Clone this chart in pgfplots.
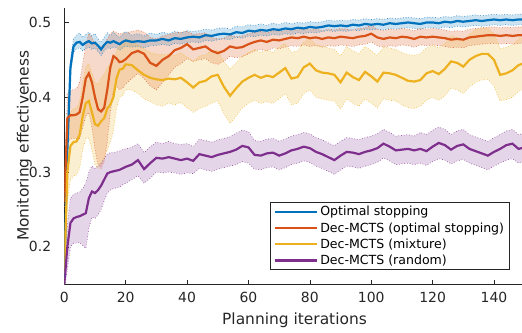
\documentclass[border=0pt]{standalone}
\usepackage{fontspec}
\setmainfont{DejaVu Sans}
\usepackage{pgfplots}
\pgfplotsset{compat=1.18}
\usepackage{pgfplotstable}
\usepgfplotslibrary{fillbetween}
\definecolor{cblue}{rgb}{0,0.447,0.741}
\definecolor{corange}{rgb}{0.85,0.325,0.098}
\definecolor{cyellow}{rgb}{0.929,0.694,0.125}
\definecolor{cpurple}{rgb}{0.494,0.184,0.556}
\definecolor{axgray}{rgb}{0.15,0.15,0.15}

\pgfplotstableread{
x m lo hi
0 0.160 0.152 0.168
1 0.330 0.318 0.342
2 0.440 0.430 0.450
3 0.468 0.460 0.478
4 0.473 0.465 0.483
5 0.474 0.466 0.486
6 0.470 0.462 0.480
7 0.473 0.465 0.484
8 0.475 0.467 0.487
9 0.472 0.464 0.482
10 0.473 0.466 0.485
11 0.469 0.461 0.478
12 0.464 0.456 0.473
13 0.470 0.462 0.480
14 0.474 0.466 0.486
15 0.473 0.465 0.482
16 0.475 0.467 0.487
17 0.473 0.466 0.483
18 0.471 0.463 0.480
19 0.474 0.466 0.484
20 0.476 0.468 0.488
22 0.474 0.467 0.483
24 0.475 0.468 0.485
26 0.474 0.466 0.482
28 0.476 0.469 0.486
30 0.476 0.469 0.484
32 0.478 0.471 0.487
34 0.476 0.469 0.485
36 0.479 0.472 0.488
38 0.478 0.471 0.486
40 0.480 0.473 0.489
42 0.481 0.474 0.488
44 0.480 0.473 0.489
46 0.483 0.476 0.491
48 0.482 0.475 0.490
50 0.484 0.477 0.492
52 0.485 0.478 0.493
54 0.484 0.477 0.491
56 0.487 0.480 0.495
58 0.486 0.479 0.494
60 0.489 0.482 0.497
62 0.488 0.481 0.496
64 0.490 0.483 0.498
66 0.489 0.482 0.496
68 0.491 0.484 0.499
70 0.490 0.483 0.497
72 0.492 0.485 0.500
74 0.491 0.484 0.498
76 0.493 0.486 0.500
78 0.492 0.485 0.499
80 0.494 0.487 0.501
82 0.493 0.486 0.500
84 0.494 0.488 0.501
86 0.496 0.489 0.503
88 0.495 0.488 0.502
90 0.496 0.489 0.503
92 0.495 0.488 0.502
94 0.497 0.490 0.504
96 0.496 0.489 0.503
98 0.498 0.491 0.505
100 0.497 0.490 0.504
102 0.498 0.491 0.505
104 0.497 0.490 0.504
106 0.499 0.492 0.506
108 0.498 0.491 0.505
110 0.499 0.492 0.506
112 0.500 0.493 0.507
114 0.499 0.492 0.506
116 0.498 0.491 0.505
118 0.500 0.493 0.507
120 0.500 0.493 0.507
122 0.499 0.492 0.506
124 0.501 0.494 0.508
126 0.500 0.493 0.507
128 0.502 0.495 0.509
130 0.501 0.494 0.508
132 0.502 0.495 0.509
134 0.503 0.496 0.510
136 0.502 0.495 0.509
138 0.503 0.496 0.510
140 0.504 0.497 0.511
142 0.503 0.496 0.510
144 0.504 0.497 0.511
146 0.503 0.496 0.510
148 0.504 0.497 0.511
150 0.504 0.497 0.511
}\tblue

\pgfplotstableread{
x m lo hi
0 0.260 0.250 0.270
1 0.372 0.340 0.405
2 0.376 0.345 0.410
3 0.376 0.345 0.410
4 0.377 0.345 0.412
5 0.380 0.345 0.420
6 0.400 0.360 0.445
7 0.425 0.375 0.470
8 0.432 0.380 0.485
9 0.420 0.360 0.480
10 0.400 0.330 0.470
11 0.384 0.310 0.465
12 0.381 0.305 0.468
13 0.386 0.315 0.470
14 0.410 0.340 0.478
15 0.440 0.380 0.485
16 0.455 0.410 0.488
17 0.452 0.415 0.487
18 0.447 0.410 0.484
19 0.448 0.412 0.486
20 0.451 0.418 0.486
22 0.459 0.425 0.488
24 0.462 0.432 0.490
26 0.458 0.425 0.487
28 0.446 0.415 0.480
30 0.442 0.410 0.478
32 0.450 0.420 0.482
34 0.455 0.430 0.484
36 0.463 0.440 0.486
38 0.466 0.445 0.487
40 0.471 0.452 0.488
42 0.464 0.448 0.484
44 0.466 0.450 0.485
46 0.468 0.452 0.486
48 0.462 0.446 0.480
50 0.459 0.444 0.478
52 0.462 0.448 0.479
54 0.468 0.455 0.483
56 0.466 0.453 0.481
58 0.467 0.454 0.482
60 0.471 0.458 0.485
62 0.474 0.462 0.487
64 0.476 0.464 0.488
66 0.474 0.462 0.486
68 0.477 0.466 0.489
70 0.476 0.465 0.488
72 0.478 0.467 0.489
74 0.480 0.469 0.491
76 0.479 0.468 0.490
78 0.481 0.470 0.492
80 0.479 0.468 0.490
82 0.480 0.469 0.491
84 0.478 0.467 0.489
86 0.480 0.469 0.491
88 0.479 0.468 0.490
90 0.481 0.470 0.492
92 0.480 0.469 0.491
94 0.479 0.468 0.490
96 0.481 0.470 0.492
98 0.482 0.471 0.493
100 0.485 0.474 0.496
102 0.480 0.469 0.491
104 0.478 0.467 0.489
106 0.480 0.469 0.491
108 0.479 0.468 0.490
110 0.481 0.470 0.492
112 0.480 0.469 0.491
114 0.478 0.467 0.489
116 0.481 0.470 0.492
118 0.480 0.469 0.491
120 0.481 0.470 0.492
122 0.480 0.469 0.491
124 0.479 0.468 0.490
126 0.477 0.466 0.488
128 0.478 0.467 0.489
130 0.477 0.466 0.488
132 0.480 0.469 0.491
134 0.481 0.470 0.492
136 0.482 0.471 0.493
138 0.483 0.472 0.494
140 0.483 0.472 0.494
142 0.482 0.471 0.493
144 0.483 0.472 0.494
146 0.482 0.471 0.493
148 0.483 0.472 0.494
150 0.483 0.472 0.494
}\torange

\pgfplotstableread{
x m lo hi
0 0.165 0.150 0.180
1 0.300 0.260 0.340
2 0.335 0.290 0.380
3 0.340 0.295 0.385
4 0.341 0.296 0.386
5 0.350 0.305 0.395
6 0.375 0.330 0.420
7 0.392 0.345 0.440
8 0.395 0.345 0.445
9 0.380 0.330 0.432
10 0.364 0.310 0.420
11 0.362 0.305 0.418
12 0.368 0.312 0.425
13 0.372 0.318 0.430
14 0.385 0.330 0.440
15 0.390 0.340 0.445
16 0.400 0.355 0.450
17 0.425 0.385 0.462
18 0.437 0.400 0.470
19 0.438 0.402 0.472
20 0.444 0.410 0.478
22 0.443 0.410 0.476
24 0.436 0.405 0.470
26 0.430 0.398 0.465
28 0.426 0.394 0.460
30 0.424 0.390 0.458
32 0.423 0.388 0.457
34 0.425 0.392 0.458
36 0.424 0.390 0.456
38 0.426 0.393 0.460
40 0.420 0.386 0.454
42 0.413 0.380 0.448
44 0.420 0.385 0.455
46 0.422 0.388 0.457
48 0.428 0.392 0.462
50 0.430 0.395 0.463
52 0.414 0.378 0.448
54 0.402 0.365 0.438
56 0.412 0.375 0.446
58 0.421 0.386 0.455
60 0.426 0.392 0.460
62 0.430 0.396 0.464
64 0.426 0.392 0.460
66 0.429 0.394 0.463
68 0.427 0.392 0.460
70 0.433 0.398 0.467
72 0.439 0.405 0.472
74 0.425 0.390 0.460
76 0.427 0.392 0.462
78 0.440 0.405 0.474
80 0.445 0.410 0.478
82 0.436 0.400 0.470
84 0.433 0.398 0.468
86 0.432 0.396 0.466
88 0.430 0.395 0.464
90 0.420 0.384 0.455
92 0.433 0.398 0.468
94 0.427 0.392 0.462
96 0.423 0.388 0.458
98 0.434 0.398 0.468
100 0.428 0.392 0.462
102 0.421 0.386 0.456
104 0.433 0.398 0.467
106 0.432 0.396 0.466
108 0.430 0.395 0.464
110 0.426 0.390 0.460
112 0.422 0.386 0.457
114 0.421 0.385 0.456
116 0.423 0.388 0.458
118 0.432 0.396 0.466
120 0.435 0.400 0.470
122 0.431 0.396 0.466
124 0.438 0.402 0.472
126 0.448 0.412 0.482
128 0.446 0.410 0.480
130 0.441 0.405 0.475
132 0.450 0.414 0.484
134 0.455 0.420 0.490
136 0.458 0.423 0.492
138 0.458 0.424 0.492
140 0.450 0.415 0.485
142 0.430 0.395 0.465
144 0.432 0.397 0.467
146 0.436 0.400 0.470
148 0.443 0.408 0.478
150 0.446 0.410 0.480
}\tyellow

\pgfplotstableread{
x m lo hi
0 0.150 0.145 0.155
1 0.200 0.170 0.230
2 0.232 0.200 0.265
3 0.238 0.205 0.270
4 0.240 0.205 0.272
5 0.241 0.206 0.273
6 0.243 0.202 0.278
7 0.245 0.198 0.285
8 0.265 0.225 0.300
9 0.274 0.240 0.308
10 0.272 0.238 0.305
11 0.276 0.243 0.308
12 0.282 0.250 0.312
13 0.290 0.262 0.318
14 0.298 0.272 0.324
15 0.300 0.276 0.326
16 0.301 0.278 0.326
17 0.302 0.279 0.327
18 0.303 0.280 0.328
19 0.305 0.283 0.330
20 0.307 0.285 0.331
22 0.310 0.290 0.333
24 0.316 0.295 0.338
26 0.304 0.285 0.326
28 0.312 0.292 0.334
30 0.319 0.300 0.340
32 0.318 0.299 0.338
34 0.320 0.300 0.341
36 0.318 0.299 0.338
38 0.316 0.297 0.337
40 0.318 0.299 0.338
42 0.315 0.298 0.334
44 0.324 0.305 0.344
46 0.322 0.303 0.342
48 0.320 0.301 0.340
50 0.323 0.304 0.343
52 0.325 0.306 0.345
54 0.327 0.308 0.347
56 0.330 0.310 0.352
58 0.335 0.314 0.356
60 0.333 0.312 0.354
62 0.323 0.304 0.342
64 0.322 0.303 0.341
66 0.325 0.306 0.344
68 0.326 0.307 0.345
70 0.322 0.303 0.341
72 0.325 0.306 0.344
74 0.329 0.310 0.348
76 0.331 0.312 0.350
78 0.334 0.315 0.353
80 0.332 0.313 0.351
82 0.327 0.308 0.346
84 0.324 0.305 0.343
86 0.320 0.301 0.339
88 0.316 0.297 0.335
90 0.322 0.303 0.341
92 0.327 0.308 0.346
94 0.326 0.307 0.345
96 0.324 0.305 0.343
98 0.327 0.308 0.346
100 0.329 0.310 0.348
102 0.332 0.313 0.351
104 0.338 0.319 0.357
106 0.334 0.315 0.353
108 0.329 0.310 0.348
110 0.330 0.311 0.349
112 0.331 0.312 0.350
114 0.329 0.310 0.348
116 0.331 0.312 0.353
118 0.328 0.309 0.350
120 0.334 0.314 0.356
122 0.339 0.318 0.360
124 0.336 0.316 0.357
126 0.330 0.311 0.350
128 0.335 0.315 0.355
130 0.337 0.317 0.357
132 0.331 0.312 0.350
134 0.328 0.309 0.347
136 0.325 0.306 0.344
138 0.322 0.303 0.341
140 0.327 0.308 0.346
142 0.331 0.312 0.350
144 0.336 0.316 0.355
146 0.338 0.318 0.357
148 0.331 0.312 0.350
150 0.333 0.314 0.352
}\tpurple

\begin{document}
\begin{tikzpicture}
\begin{axis}[
  scale only axis, width=460.4bp, height=276.8bp,
  xmin=0, xmax=150, ymin=0.15, ymax=0.52,
  axis lines=left, axis line style={-, axgray, line width=0.6bp},
  xtick={0,20,...,140}, ytick={0.2,0.3,0.4,0.5},
  tick align=inside, major tick length=4.5bp,
  tick style={axgray, line width=0.6bp},
  /pgf/number format/assume math mode=true,
  ticklabel style={font=\fontsize{14}{16}\selectfont, text=axgray},
  yticklabel style={/pgf/number format/fixed, /pgf/number format/precision=1, /pgf/number format/fixed zerofill, xshift=-9.6bp},
  xticklabel style={yshift=-4bp},
  xlabel={Planning iterations}, ylabel={Monitoring effectiveness},
  label style={font=\fontsize{15.5}{18}\selectfont, text=axgray},
  xlabel style={at={(axis description cs:0.5,-0.102)}, anchor=north, inner sep=0pt},
  ylabel style={at={(axis description cs:-0.070,0.5)}, anchor=south, inner sep=0pt},
  legend style={at={(axis description cs:0.968,0.0517)}, anchor=south east,
    draw=axgray, line width=0.6bp, fill=white, font=\fontsize{12.6}{15}\selectfont,
    cells={anchor=west}, row sep=0pt, nodes={inner sep=2.6bp}, inner xsep=3bp, inner ysep=1bp},
  legend image code/.code={\draw[#1, line width=2.2bp] (0bp,0bp) -- (42bp,0bp);},
]
% bands
\addplot[name path=bh, cblue!80, dotted, line width=0.7bp, forget plot] table[x=x,y=hi]{\tblue};
\addplot[name path=bl, cblue!80, dotted, line width=0.7bp, forget plot] table[x=x,y=lo]{\tblue};
\addplot[cblue, fill opacity=0.2, draw=none, forget plot] fill between[of=bh and bl];
\addplot[name path=oh, corange!80, dotted, line width=0.7bp, forget plot] table[x=x,y=hi]{\torange};
\addplot[name path=ol, corange!80, dotted, line width=0.7bp, forget plot] table[x=x,y=lo]{\torange};
\addplot[corange, fill opacity=0.22, draw=none, forget plot] fill between[of=oh and ol];
\addplot[name path=yh, cyellow!80, dotted, line width=0.7bp, forget plot] table[x=x,y=hi]{\tyellow};
\addplot[name path=yl, cyellow!80, dotted, line width=0.7bp, forget plot] table[x=x,y=lo]{\tyellow};
\addplot[cyellow, fill opacity=0.2, draw=none, forget plot] fill between[of=yh and yl];
\addplot[name path=ph, cpurple!80, dotted, line width=0.7bp, forget plot] table[x=x,y=hi]{\tpurple};
\addplot[name path=pl, cpurple!80, dotted, line width=0.7bp, forget plot] table[x=x,y=lo]{\tpurple};
\addplot[cpurple, fill opacity=0.2, draw=none, forget plot] fill between[of=ph and pl];
% means
\addplot[cblue, line width=2.2bp] table[x=x,y=m]{\tblue};
\addlegendentry{Optimal stopping}
\addplot[corange, line width=2.2bp] table[x=x,y=m]{\torange};
\addlegendentry{Dec-MCTS (optimal stopping)}
\addplot[cyellow, line width=2.2bp] table[x=x,y=m]{\tyellow};
\addlegendentry{Dec-MCTS (mixture)}
\addplot[cpurple, line width=2.2bp] table[x=x,y=m]{\tpurple};
\addlegendentry{Dec-MCTS (random)}
\end{axis}
\pgfresetboundingbox
\path (-64.3bp,-48.7bp) rectangle (457.7bp,284.3bp);
\end{tikzpicture}
\end{document}
